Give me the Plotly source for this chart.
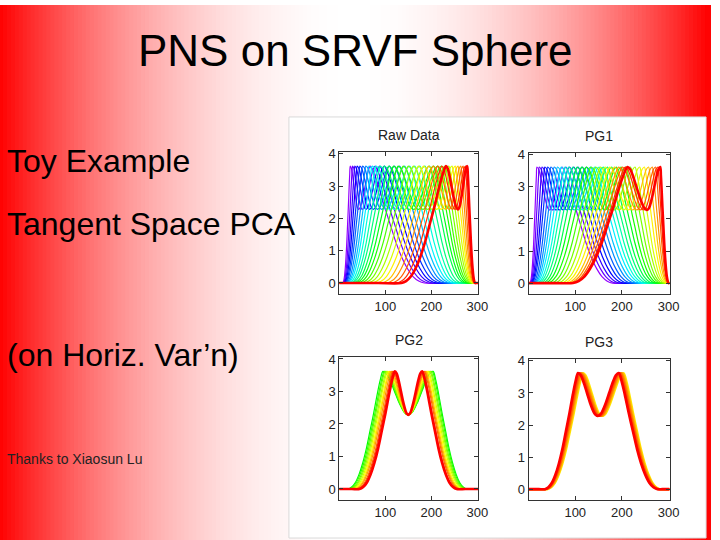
import colorsys
import numpy as np
import plotly.graph_objects as go

title = "PNS on SRVF Sphere"
side_lines = ["Toy Example", "Tangent Space PCA", "(on Horiz. Var’n)"]
credit = "Thanks to Xiaosun Lu"
panel_titles = ["Raw Data", "PG1", "PG2", "PG3"]

# mean curve
base_x = [0, 20, 32, 40, 48, 56, 64, 72, 80, 88, 96, 102, 108, 114, 120, 128, 136, 144, 148,
          152, 156, 160, 168, 176, 184, 190, 196, 202, 208, 216, 224, 232, 240, 248, 256, 264,
          272, 284, 302]
base_y = [0, 0, 0, 0.06, 0.2, 0.45, 0.8, 1.25, 1.8, 2.35, 2.95, 3.35, 3.62, 3.55, 3.35, 3.0,
          2.65, 2.38, 2.31, 2.28, 2.31, 2.38, 2.65, 3.0, 3.35, 3.55, 3.62, 3.35, 2.95, 2.35, 1.8,
          1.25, 0.8, 0.45, 0.2, 0.06, 0, 0, 0]
# landmarks of the mean curve: start, peak 1, dip, peak 2, end
base_marks = [32, 108, 152, 196, 272]

# landmarks of every curve, one list per landmark (purple -> red)
raw_s = [8, 9, 10, 11, 12, 13, 15, 17, 19, 22, 25, 28, 32, 36, 41, 47, 54, 62, 71, 81, 92, 103, 114, 125, 135]
raw_p1 = [24, 29, 34, 39, 45, 51, 58, 65, 72, 80, 89, 98, 108, 118, 128, 139, 150, 161, 172, 183, 194, 204, 214, 223, 232]
raw_d = [42, 50, 58, 66, 74, 83, 92, 101, 110, 120, 130, 141, 152, 162, 172, 182, 192, 202, 212, 222, 231, 239, 246, 252, 258]
raw_p2 = [68, 78, 88, 98, 109, 120, 131, 142, 153, 164, 175, 186, 196, 205, 214, 222, 230, 238, 245, 252, 258, 264, 269, 274, 278]
raw_e = [185, 194, 203, 211, 219, 227, 234, 241, 247, 253, 259, 265, 272, 276, 280, 283, 286, 288, 290, 291, 292, 293, 294, 294, 295]

pg1_s = [3, 4, 5, 6, 7, 9, 11, 13, 15, 18, 21, 25, 30, 35, 41, 48, 55, 62, 69, 75, 81, 86, 90, 93, 95]
pg1_p1 = [18, 23, 29, 35, 41, 48, 55, 62, 70, 78, 86, 95, 104, 114, 124, 134, 144, 154, 164, 174, 184, 193, 201, 207, 212]
pg1_d = [45, 52, 59, 66, 74, 82, 90, 98, 107, 116, 125, 134, 144, 154, 164, 174, 184, 194, 204, 214, 223, 232, 240, 247, 254]
pg1_p2 = [72, 80, 88, 97, 106, 115, 124, 133, 142, 151, 160, 169, 178, 188, 198, 208, 218, 228, 238, 248, 257, 265, 272, 277, 282]
pg1_e = [180, 188, 196, 204, 212, 220, 228, 235, 242, 248, 254, 260, 266, 272, 277, 282, 286, 290, 293, 296, 298, 299, 300, 300, 300]

# green -> red
pg2_s = [19, 21, 24, 26, 29, 31, 34, 36, 39, 41, 44]
pg2_p1 = [95, 98, 100, 103, 105, 108, 110, 113, 116, 118, 121]
pg2_d = [150, 150, 150, 150, 150, 150, 150, 150, 150, 150, 150]
pg2_p2 = [204, 202, 199, 197, 194, 192, 189, 187, 185, 182, 180]
pg2_e = [277, 275, 273, 271, 269, 266, 264, 262, 260, 257, 255]

# yellow -> red
pg3_s = [41, 40, 39, 38, 37, 36, 35]
pg3_p1 = [117, 115, 113, 111, 109, 107, 106]
pg3_d = [158, 156, 155, 153, 151, 149, 148]
pg3_p2 = [204, 202, 200, 198, 196, 194, 193]
pg3_e = [282, 281, 280, 279, 278, 277, 276]

panels = [
    (raw_s, raw_p1, raw_d, raw_p2, raw_e, 275, 0),
    (pg1_s, pg1_p1, pg1_d, pg1_p2, pg1_e, 275, 0),
    (pg2_s, pg2_p1, pg2_d, pg2_p2, pg2_e, 120, 0),
    (pg3_s, pg3_p1, pg3_d, pg3_p2, pg3_e, 55, 0),
]

# axes boxes in pixels (left, right, top, bottom)
boxes = [(344, 485, 148, 292), (536, 679, 149, 292), (344, 485, 355, 500), (536, 679, 357, 500)]
W, H = 720, 540
X_END = 302
FONT = "Liberation Sans"


def hue_color(h):
    r, g, b = colorsys.hsv_to_rgb(h / 360.0, 1.0, 1.0)
    return f"rgb({int(r * 255)},{int(g * 255)},{int(b * 255)})"


def note(text, px, py, size, color="black", xanchor="left"):
    fig.add_annotation(text=text, x=px / W, y=1 - py / H, xref="paper", yref="paper",
                       xanchor=xanchor, yanchor="middle", showarrow=False,
                       font=dict(family=FONT, size=size, color=color))


fig = go.Figure()

for i, (s, p1, d, p2, e, h0, h1) in enumerate(panels):
    n = len(s)
    ax = "" if i == 0 else str(i + 1)
    for k in range(n):
        marks = [0, s[k], p1[k], d[k], p2[k], e[k], X_END]
        xs = np.interp(base_x, [0] + base_marks + [X_END], marks)
        hue = h0 + (h1 - h0) * k / (n - 1)
        last = k == n - 1
        fig.add_trace(go.Scatter(
            x=xs, y=base_y, mode="lines",
            line=dict(color=hue_color(hue), width=2.6 if last else (2.0 if i == 3 else 1.2),
                      shape="spline", smoothing=0.9),
            xaxis="x" + ax, yaxis="y" + ax, showlegend=False, hoverinfo="skip"))

    l, r, t, b = boxes[i]
    axis_style = dict(showline=True, linecolor="#333", linewidth=1, mirror="ticks",
                      ticks="inside", ticklen=4, tickcolor="#333", showgrid=False,
                      zeroline=False, tickfont=dict(family=FONT, size=13, color="#222"))
    fig.layout["xaxis" + ax] = dict(domain=[l / W, r / W], anchor="y" + ax, range=[0, X_END],
                                    tickvals=[100, 200, 300], **axis_style)
    fig.layout["yaxis" + ax] = dict(domain=[1 - b / H, 1 - t / H], anchor="x" + ax,
                                    range=[-0.35, 4.07], tickvals=[0, 1, 2, 3, 4], **axis_style)
    note(panel_titles[i], (l + r) / 2, t - 17, 14, "#222", "center")

# red - white - red slide background
shapes = []
step = 4
for px in range(0, W, step):
    dist = min(px + step / 2, W - px - step / 2) / (W / 2)
    w = 1 - (1 - dist) ** 2
    gb = int(round(255 * w))
    shapes.append(dict(type="rect", xref="paper", yref="paper", x0=(px - 1) / W,
                       x1=(px + step + 1) / W, y0=0, y1=1, fillcolor=f"rgb(255,{gb},{gb})",
                       line=dict(width=0), layer="below"))
shapes.append(dict(type="rect", xref="paper", yref="paper", x0=293 / W, x1=716 / W,
                   y0=1 - 538 / H, y1=1 - 113 / H, fillcolor="white",
                   line=dict(color="#d9d9d9", width=1), layer="below"))

note(title, 360, 46, 44, xanchor="center")
for txt, py in zip(side_lines, [157, 221, 353]):
    note(txt, 5, py, 32)
note(credit, 5, 458, 14, "#222")

fig.update_layout(width=W, height=H, margin=dict(l=0, r=0, t=0, b=0),
                  paper_bgcolor="white", plot_bgcolor="rgba(0,0,0,0)", shapes=shapes)

page_css = (
    "var s=document.createElement('style');"
    "s.textContent='html,body{margin:0;padding:0;overflow:hidden;width:720px;height:540px;}';"
    "document.head.appendChild(s);"
)
fig.write_html("out.html", config={"displayModeBar": False, "responsive": False},
               post_script=page_css)
